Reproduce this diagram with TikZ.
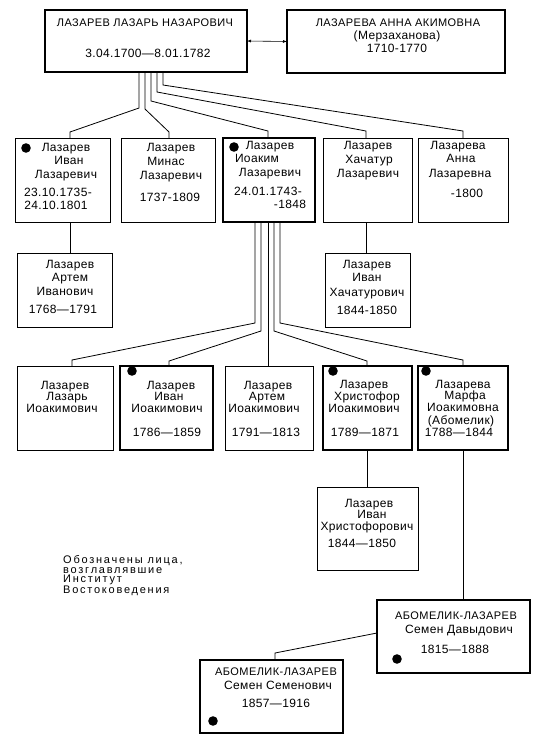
\documentclass[tikz,border=0pt]{standalone}
\usepackage{fontspec}
\setmainfont{Liberation Sans}[LetterSpace=3]
\usetikzlibrary{arrows.meta}
\begin{document}
\begin{tikzpicture}[x=1pt,y=-1pt,
  box/.style={draw, line width=0.8pt, inner sep=0pt, outer sep=0pt, anchor=north west},
  bbox/.style={box, line width=1.5pt},
  t/.style={inner sep=0pt, anchor=mid, font=\fontsize{12}{13}\selectfont},
  tc/.style={t, font=\fontsize{11}{13}\selectfont\addfontfeature{LetterSpace=4}},
  link/.style={line width=0.8pt},
  thinlink/.style={line width=0.5pt},
  dot/.style={fill=black}]
\fill[white] (0,0) rectangle (541,750);
\useasboundingbox (0,0) rectangle (541,750);

% ---------- boxes ----------
\node[box, line width=1.2pt, minimum width=202pt, minimum height=62pt] (lazar) at (45,10) {};
\node[box, line width=1.2pt, minimum width=218pt, minimum height=63pt] (wife) at (287,10) {};

\node[box,  minimum width=95pt, minimum height=84pt] (ivanL) at (15,138) {};
\node[box,  minimum width=94pt, minimum height=84pt] (minas) at (121,138) {};
\node[bbox, minimum width=92pt, minimum height=84pt] (ioakim) at (223,138) {};
\node[box,  minimum width=89pt, minimum height=84pt] (khach) at (323,138) {};
\node[box,  minimum width=90pt, minimum height=84pt] (annaL) at (418,138) {};

\node[box, minimum width=95pt, minimum height=74pt] (artemIv) at (17,253) {};
\node[box, minimum width=85pt, minimum height=74pt] (ivanKh) at (325,253) {};

\node[box,  minimum width=96pt, minimum height=84pt] (lazarI) at (17,366) {};
\node[bbox, minimum width=93pt, minimum height=84pt] (ivanI) at (120,366) {};
\node[box,  minimum width=88pt, minimum height=84pt] (artemI) at (225,366) {};
\node[bbox, minimum width=89pt, minimum height=84pt] (khris) at (323,366) {};
\node[bbox, minimum width=90pt, minimum height=84pt] (marfa) at (418,366) {};

\node[box, minimum width=101pt, minimum height=83pt] (ivanKhr) at (317,487) {};
\node[bbox, minimum width=153pt, minimum height=73pt] (semenD) at (377,600) {};
\node[bbox, minimum width=143pt, minimum height=73pt] (semenS) at (200,660) {};

% ---------- texts ----------
\node[tc] (lazar1) at (145,24) {ЛАЗАРЕВ ЛАЗАРЬ НАЗАРОВИЧ};
\node[t]  (lazar2) at (148,55) {3.04.1700—8.01.1782};
\node[tc] (wife1) at (398,24) {ЛАЗАРЕВА АННА АКИМОВНА};
\node[t]  (wife2) at (397,37) {(Мерзаханова)};
\node[t]  (wife3) at (397,50) {1710-1770};

\node[t] (ivanL1) at (66,149) {Лазарев};
\node[t] (ivanL2) at (69,162) {Иван};
\node[t] (ivanL3) at (66,176) {Лазаревич};
\node[t] (ivanL4) at (58,194) {23.10.1735-};
\node[t] (ivanL5) at (56,207) {24.10.1801};

\node[t] (minas1) at (171,149) {Лазарев};
\node[t] (minas2) at (166,163) {Минас};
\node[t] (minas3) at (171,177) {Лазаревич};
\node[t] (minas4) at (170,199) {1737-1809};

\node[t] (ioakim1) at (270,147) {Лазарев};
\node[t] (ioakim2) at (257,160) {Иоаким};
\node[t] (ioakim3) at (270,174) {Лазаревич};
\node[t] (ioakim4) at (268,193) {24.01.1743-};
\node[t] (ioakim5) at (290,206) {-1848};

\node[t] (khach1) at (368,147) {Лазарев};
\node[t] (khach2) at (369,161) {Хачатур};
\node[t] (khach3) at (368,175) {Лазаревич};

\node[t] (annaL1) at (458,147) {Лазарева};
\node[t] (annaL2) at (461,160) {Анна};
\node[t] (annaL3) at (460,175) {Лазаревна};
\node[t] (annaL4) at (467,195) {-1800};

\node[t] (artemIv1) at (70,266) {Лазарев};
\node[t] (artemIv2) at (70,279) {Артем};
\node[t] (artemIv3) at (65,293) {Иванович};
\node[t] (artemIv4) at (63,311) {1768—1791};

\node[t] (ivanKh1) at (367,266) {Лазарев};
\node[t] (ivanKh2) at (367,279) {Иван};
\node[t] (ivanKh3) at (367,294) {Хачатурович};
\node[t] (ivanKh4) at (367,312) {1844-1850};

\node[t] (lazarI1) at (65,387) {Лазарев};
\node[t] (lazarI2) at (67,398) {Лазарь};
\node[t] (lazarI3) at (62,410) {Иоакимович};

\node[t] (ivanI1) at (171,387) {Лазарев};
\node[t] (ivanI2) at (169,398) {Иван};
\node[t] (ivanI3) at (167,410) {Иоакимович};
\node[t] (ivanI4) at (167,434) {1786—1859};

\node[t] (artemI1) at (268,387) {Лазарев};
\node[t] (artemI2) at (267,398) {Артем};
\node[t] (artemI3) at (264,410) {Иоакимович};
\node[t] (artemI4) at (266,434) {1791—1813};

\node[t] (khris1) at (364,386) {Лазарев};
\node[t] (khris2) at (367,398) {Христофор};
\node[t] (khris3) at (364,410) {Иоакимович};
\node[t] (khris4) at (365,434) {1789—1871};

\node[t] (marfa1) at (463,386) {Лазарева};
\node[t] (marfa2) at (465,397) {Марфа};
\node[t] (marfa3) at (463,409) {Иоакимовна};
\node[t] (marfa4) at (461,422) {(Абомелик)};
\node[t] (marfa5) at (459,434) {1788—1844};

\node[t] (ivanKhr1) at (369,505) {Лазарев};
\node[t] (ivanKhr2) at (372,516) {Иван};
\node[t] (ivanKhr3) at (367,528) {Христофорович};
\node[t] (ivanKhr4) at (362,545) {1844—1850};

\node[tc] (semenD1) at (456,617) {АБОМЕЛИК-ЛАЗАРЕВ};
\node[t]  (semenD2) at (459,631) {Семен Давыдович};
\node[t]  (semenD3) at (455,651) {1815—1888};

\node[tc] (semenS1) at (276,673) {АБОМЕЛИК-ЛАЗАРЕВ};
\node[t]  (semenS2) at (278,687) {Семен Семенович};
\node[t]  (semenS3) at (276,705) {1857—1916};

\node[inner sep=0pt, anchor=north west, align=left,
      font=\fontsize{11}{9.8}\selectfont\addfontfeature{LetterSpace=16}] (legend) at (63,555)
  {Обозначены лица,\\возглавлявшие\\Институт\\Востоковедения};

% ---------- bullets ----------
\fill[dot] (26,148) circle (4.8pt);
\fill[dot] (234,147) circle (4.8pt);
\fill[dot] (132,371) circle (4.8pt);
\fill[dot] (333,371) circle (4.8pt);
\fill[dot] (426,371) circle (4.8pt);
\fill[dot] (397,659) circle (4.8pt);
\fill[dot] (213,721) circle (4.8pt);

% ---------- connectors ----------
\draw[line width=0.6pt, {Latex[length=4pt,width=3pt]}-{Latex[length=4pt,width=3pt]}] (lazar.east) -- (wife.west);

\draw[link] (139,0 |- lazar.south) -- (139,108) -- (70,132) -- (70,0 |- ivanL.north);
\draw[link] (145,0 |- lazar.south) -- (145,109) -- (169,132) -- (169,0 |- minas.north);
\draw[link] (151,0 |- lazar.south) -- (151,101) -- (268,131) -- (268,0 |- ioakim.north);
\draw[link] (157,0 |- lazar.south) -- (157,92) -- (366,131) -- (366,0 |- khach.north);
\draw[link] (163,0 |- lazar.south) -- (163,85) -- (463,131) -- (463,0 |- annaL.north);

\draw[link] (70,0 |- ivanL.south) -- (70,0 |- artemIv.north);
\draw[link] (366,0 |- khach.south) -- (366,0 |- ivanKh.north);

\draw[link] (255,0 |- ioakim.south) -- (255,323) -- (72,360) -- (72,0 |- lazarI.north);
\draw[link] (261,0 |- ioakim.south) -- (261,331) -- (169,361) -- (169,0 |- ivanI.north);
\draw[thinlink] (268,0 |- ioakim.south) -- (268,0 |- artemI.north);
\draw[link] (274,0 |- ioakim.south) -- (274,331) -- (367,361) -- (367,0 |- khris.north);
\draw[link] (280,0 |- ioakim.south) -- (280,323) -- (463,360) -- (463,0 |- marfa.north);

\draw[link] (367,0 |- khris.south) -- (367,0 |- ivanKhr.north);
\draw[link] (463,0 |- marfa.south) -- (463,0 |- semenD.north);
\draw[link] (semenD.west |- 0,633) -- (275,653) -- (275,0 |- semenS.north);
\end{tikzpicture}
\end{document}
